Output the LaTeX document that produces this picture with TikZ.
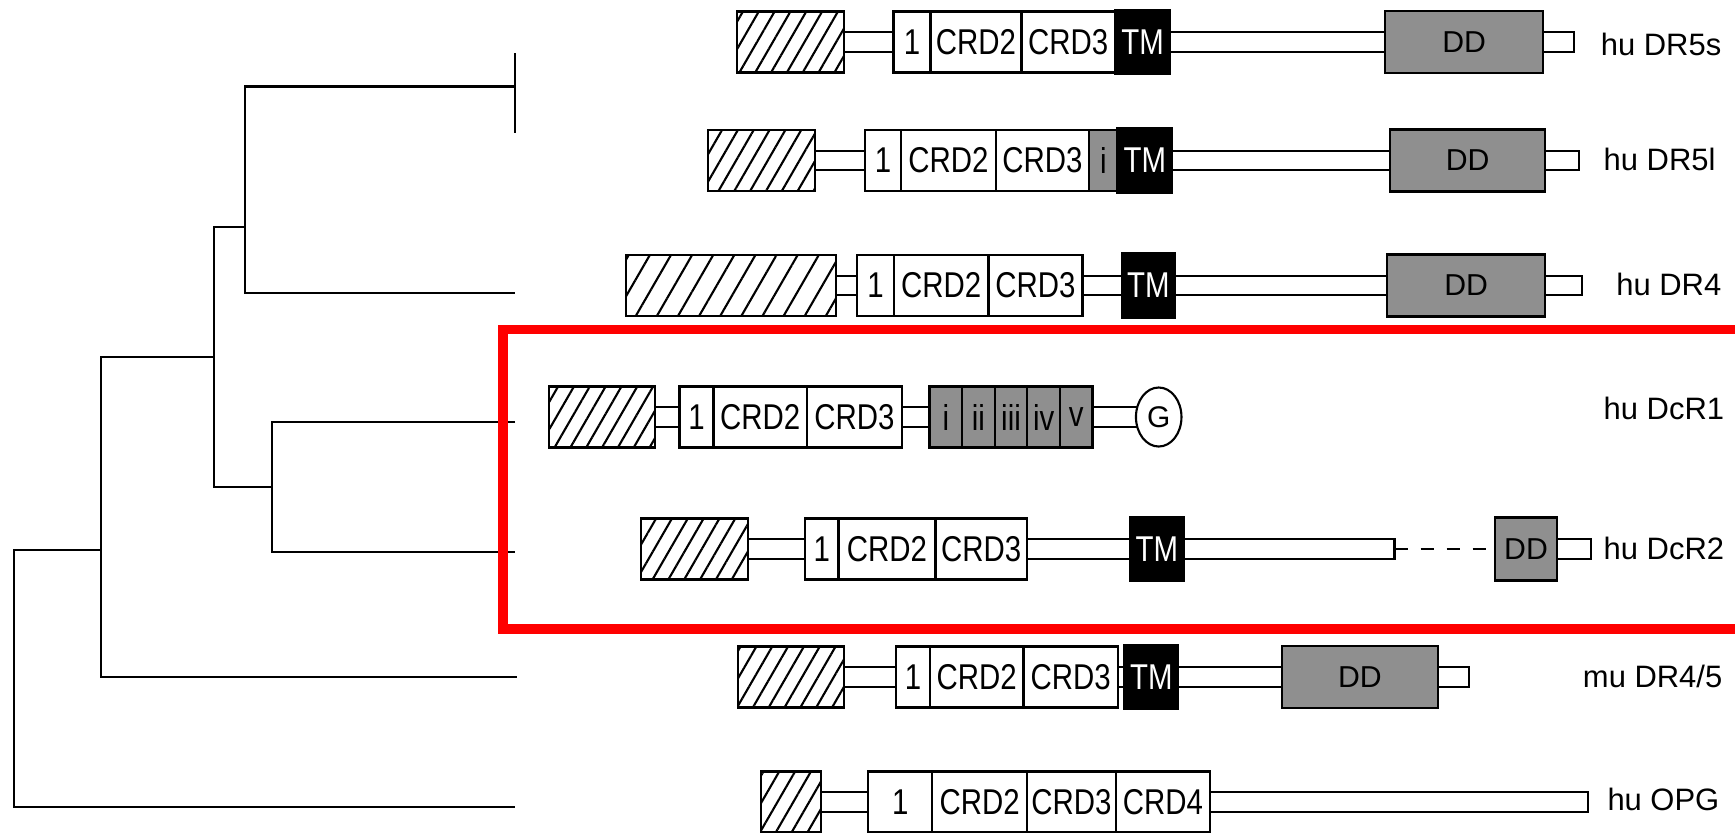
\documentclass[tikz,border=0pt]{standalone}
\usepackage{fontspec}
\setmainfont{Liberation Sans}
\newfontfamily\domfont[FakeStretch=0.82]{Liberation Sans}
\usepackage{tikz}
\usetikzlibrary{positioning, shapes.geometric, patterns.meta}
\definecolor{cDomain}{RGB}{143,143,143}
\definecolor{cFrame}{RGB}{255,0,0}
\tikzset{
    dombox/.style={rectangle, draw=black, line width=0.6pt, fill=white, inner sep=0pt, outer sep=0pt, minimum height=0.61cm, font=\domfont\fontsize{10.2}{12}\selectfont},
    bw/.style={minimum width=#1*0.01cm},
    tm/.style={dombox, fill=black, text=white, minimum height=0.63cm},
    dd/.style={dombox, fill=cDomain, minimum height=0.62cm, font=\fontsize{8.6}{10}\selectfont},
    sig/.style={rectangle, draw=black, line width=0.6pt, inner sep=0pt, outer sep=0pt, minimum height=0.61cm, pattern={Lines[angle=60, distance=#1, line width=0.6pt]}},
    sig/.default=3.9pt,
    stalk/.style={dombox, minimum height=0.195cm},
    gpi/.style={ellipse, draw=black, line width=0.6pt, fill=white, inner sep=0pt, outer sep=0pt, minimum width=0.455cm, minimum height=0.59cm},
    receptor/.style={inner sep=0pt, font=\fontsize{8.8}{10}\selectfont},
    branch/.style={line width=0.6pt},
    redframe/.style={draw=cFrame, line width=2.6pt},
}

\begin{document}
\begin{tikzpicture}[x=0.01cm, y=-0.01cm, every node/.style={font=\fontsize{8.5}{10}\selectfont}]
    \useasboundingbox (0,0) rectangle (1735,832);
    % tree
    \coordinate (lf1) at (515,86.5);
    \coordinate (lf2) at (515,293);
    \coordinate (lf3) at (515,422);
    \coordinate (lf4) at (515,552);
    \coordinate (lf5) at (517,677);
    \coordinate (lf6) at (515,807);
    \coordinate (j1) at (245,227);
    \coordinate (j2) at (214,357);
    \coordinate (j3) at (272,487);
    \coordinate (j4) at (101,550);
    \coordinate (j5) at (14,807);
    \draw[branch] (lf1) -| (j1) |- (lf2);
    \draw[branch] (lf3) -| (j3) |- (lf4);
    \draw[branch] (j1) -| (j2) |- (j3);
    \draw[branch] (j2) -| (j4) |- (lf5);
    \draw[branch] (j4) -| (j5) -- (lf6);
    \draw[branch] (lf1) ++(0,-33.5) -- ++(0,80);

    % hu DR5s
    \node[sig, bw=107, anchor=west] (s1) at (737,42) {};
    \node[stalk, bw=730, right=0pt of s1] (k1) {};
    \node[dombox, bw=37, right=0.495cm of s1] (a1) {1};
    \node[dombox, bw=91, right=0pt of a1] (b1) {CRD2};
    \node[dombox, bw=93.5, right=0pt of b1] (c1) {CRD3};
    \node[tm, bw=55, right=0pt of c1] (t1) {TM};
    \node[dd, bw=158, right=2.15cm of t1] (d1) {DD};
    \node[receptor, anchor=base east] (lab1) at (1722,55) {hu DR5s};

    % hu DR5l
    \node[sig, bw=107, anchor=west] (s2) at (708,160.5) {};
    \node[stalk, bw=764, right=0pt of s2] (k2) {};
    \node[dombox, bw=36, right=0.5cm of s2] (a2) {1};
    \node[dombox, bw=95, right=0pt of a2] (b2) {CRD2};
    \node[dombox, bw=93, right=0pt of b2] (c2) {CRD3};
    \node[dombox, fill=cDomain, bw=28.5, right=0pt of c2] (i2) {i};
    \node[tm, bw=54.5, minimum height=0.65cm, right=0pt of i2] (t2) {TM};
    \node[dd, bw=155, right=2.18cm of t2] (d2) {DD};
    \node[receptor, anchor=base west] (lab2) at (1603,170) {hu DR5l};

    % hu DR4
    \node[sig=5.2pt, bw=210, anchor=west] (s3) at (626,285.5) {};
    \node[stalk, bw=746, right=0pt of s3] (k3) {};
    \node[dombox, bw=37, right=0.21cm of s3] (a3) {1};
    \node[dombox, bw=94.5, right=0pt of a3] (b3) {CRD2};
    \node[dombox, bw=94, right=0pt of b3] (c3) {CRD3};
    \node[tm, bw=52.5, minimum height=0.64cm, right=0.395cm of c3] (t3) {TM};
    \node[dd, bw=158, right=2.125cm of t3] (d3) {DD};
    \node[receptor, anchor=base east] (lab3) at (1722,295) {hu DR4};

    % hu DcR1
    \node[sig, bw=106, anchor=west] (s4) at (549,417) {};
    \node[stalk, bw=504, right=0pt of s4] (k4) {};
    \node[dombox, bw=34, right=0.245cm of s4] (a4) {1};
    \node[dombox, bw=93.5, right=0pt of a4] (b4) {CRD2};
    \node[dombox, bw=95, right=0pt of b4] (c4) {CRD3};
    \node[dombox, fill=cDomain, bw=32.6, right=0.275cm of c4] (r1) {i};
    \node[dombox, fill=cDomain, bw=32.6, right=0pt of r1] (r2) {ii};
    \node[dombox, fill=cDomain, bw=32.6, right=0pt of r2] (r3) {iii};
    \node[dombox, fill=cDomain, bw=32.6, right=0pt of r3] (r4) {iv};
    \node[dombox, fill=cDomain, bw=32.6, right=0pt of r4] (r5) {v};
    \node[gpi, right=0.434cm of r5] (g4) {G};
    \node[receptor, anchor=base west] (lab4) at (1603,419) {hu DcR1};

    % hu DcR2
    \node[sig, bw=107, anchor=west] (s5) at (641,549) {};
    \node[stalk, bw=646.5, right=0pt of s5] (k5) {};
    \node[dombox, bw=33.5, right=0.57cm of s5] (a5) {1};
    \node[dombox, bw=97, right=0pt of a5] (b5) {CRD2};
    \node[dombox, bw=91.5, right=0pt of b5] (c5) {CRD3};
    \node[tm, bw=54.5, minimum height=0.64cm, right=1.025cm of c5] (t5) {TM};
    \node[dd, bw=62, minimum height=0.63cm, right=1.005cm of k5] (d5) {DD};
    \node[stalk, bw=34, right=0pt of d5] (k5t) {};
    \draw[branch, dash pattern=on 3.7pt off 3.7pt] (k5) -- (d5);
    \node[receptor, anchor=base west] (lab5) at (1603,559) {hu DcR2};

    % mu DR4/5
    \node[sig, bw=106, anchor=west] (s6) at (738,677) {};
    \node[stalk, bw=625, right=0pt of s6] (k6) {};
    \node[dombox, bw=34, right=0.52cm of s6] (a6) {1};
    \node[dombox, bw=93.5, right=0pt of a6] (b6) {CRD2};
    \node[dombox, bw=94.5, right=0pt of b6] (c6) {CRD3};
    \node[tm, bw=54, right=0.064cm of c6] (t6) {TM};
    \node[dd, bw=156, right=1.035cm of t6] (d6) {DD};
    \node[receptor, anchor=base east] (lab6) at (1723,687) {mu DR4/5};

    % hu OPG
    \node[sig, bw=60, anchor=west] (s7) at (761,802) {};
    \node[stalk, bw=767, right=0pt of s7] (k7) {};
    \node[dombox, bw=64, right=0.473cm of s7] (a7) {1};
    \node[dombox, bw=94.5, right=0pt of a7] (b7) {CRD2};
    \node[dombox, bw=89, right=0pt of b7] (c7) {CRD3};
    \node[dombox, bw=94, right=0pt of c7] (e7) {CRD4};
    \node[receptor, anchor=base east] (lab7) at (1720,810) {hu OPG};

    \draw[redframe] (1745,329.5) -- (503,329.5) -- (503,629) -- (1745,629);
\end{tikzpicture}
\end{document}
